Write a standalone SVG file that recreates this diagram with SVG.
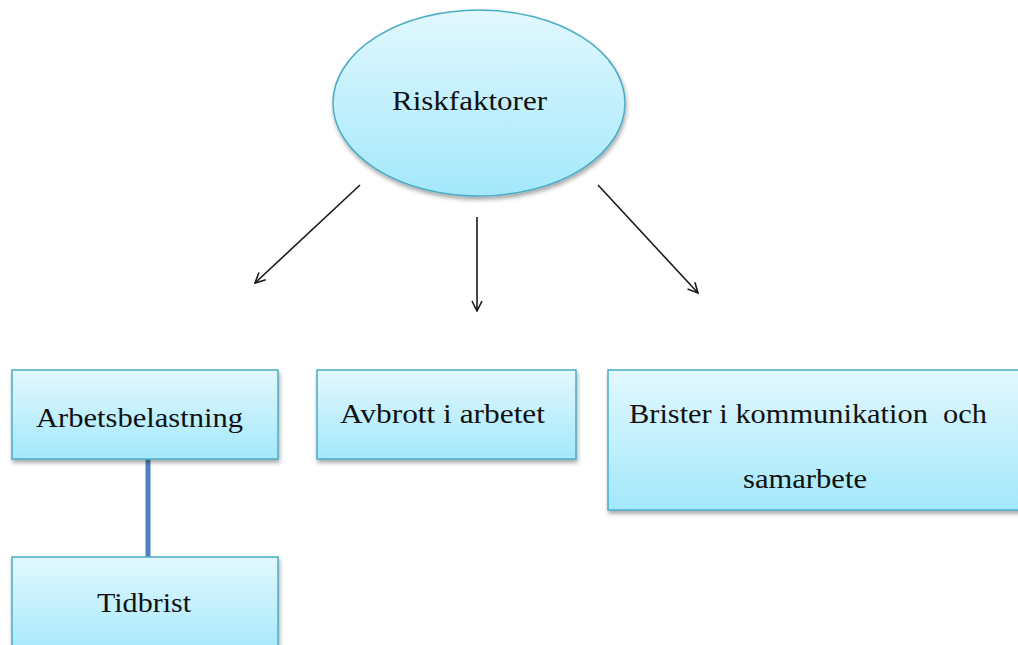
<svg xmlns="http://www.w3.org/2000/svg" width="1018" height="645" viewBox="0 0 1018 645">
<style>
.node{fill:url(#g);stroke:#4bacc6;stroke-width:1.5;filter:url(#sh)}
.t{font-family:"Liberation Serif","Times New Roman",serif;font-size:27px;fill:#111}
.arr{stroke:#1a1a1a;stroke-width:1.6;fill:none;marker-end:url(#ah)}
</style>
<defs>
<linearGradient id="g" x1="0" y1="0" x2="0" y2="1">
<stop offset="0" stop-color="#e2f8fe"/>
<stop offset="1" stop-color="#a3e8fb"/>
</linearGradient>
<filter id="sh" x="-10%" y="-10%" width="130%" height="130%">
<feDropShadow dx="1" dy="3" stdDeviation="2" flood-color="#000" flood-opacity="0.35"/>
</filter>
<marker id="ah" viewBox="0 0 12 12" refX="11" refY="6" markerWidth="12" markerHeight="12" markerUnits="userSpaceOnUse" orient="auto">
<path d="M1,1 L11,6 L1,11" fill="none" stroke="#1a1a1a" stroke-width="1.6"/>
</marker>
</defs>
<g id="connectors">
<line class="arr" x1="360" y1="185" x2="255" y2="283"/>
<line class="arr" x1="477" y1="217" x2="477" y2="311"/>
<line class="arr" x1="598" y1="185" x2="698" y2="293"/>
<line x1="148" y1="459" x2="148" y2="558" stroke="#4f81bd" stroke-width="5"/>
</g>
<g id="riskfaktorer">
<ellipse class="node" cx="479" cy="103" rx="146" ry="93"/>
<text class="t" x="392" y="110" textLength="155" lengthAdjust="spacingAndGlyphs">Riskfaktorer</text>
</g>
<g id="arbetsbelastning">
<rect class="node" x="12" y="370" width="266" height="89"/>
<text class="t" x="36" y="427" textLength="207" lengthAdjust="spacingAndGlyphs">Arbetsbelastning</text>
</g>
<g id="avbrott">
<rect class="node" x="317" y="370" width="259" height="89"/>
<text class="t" x="340" y="423" textLength="205" lengthAdjust="spacingAndGlyphs">Avbrott i arbetet</text>
</g>
<g id="brister">
<rect class="node" x="608" y="370" width="420" height="140"/>
<text class="t" x="629" y="423" textLength="358" lengthAdjust="spacingAndGlyphs" xml:space="preserve">Brister i kommunikation  och</text>
<text class="t" x="743" y="488" textLength="124" lengthAdjust="spacingAndGlyphs">samarbete</text>
</g>
<g id="tidbrist">
<rect class="node" x="12" y="557" width="266" height="100"/>
<text class="t" x="97" y="612" textLength="94" lengthAdjust="spacingAndGlyphs">Tidbrist</text>
</g>
</svg>
